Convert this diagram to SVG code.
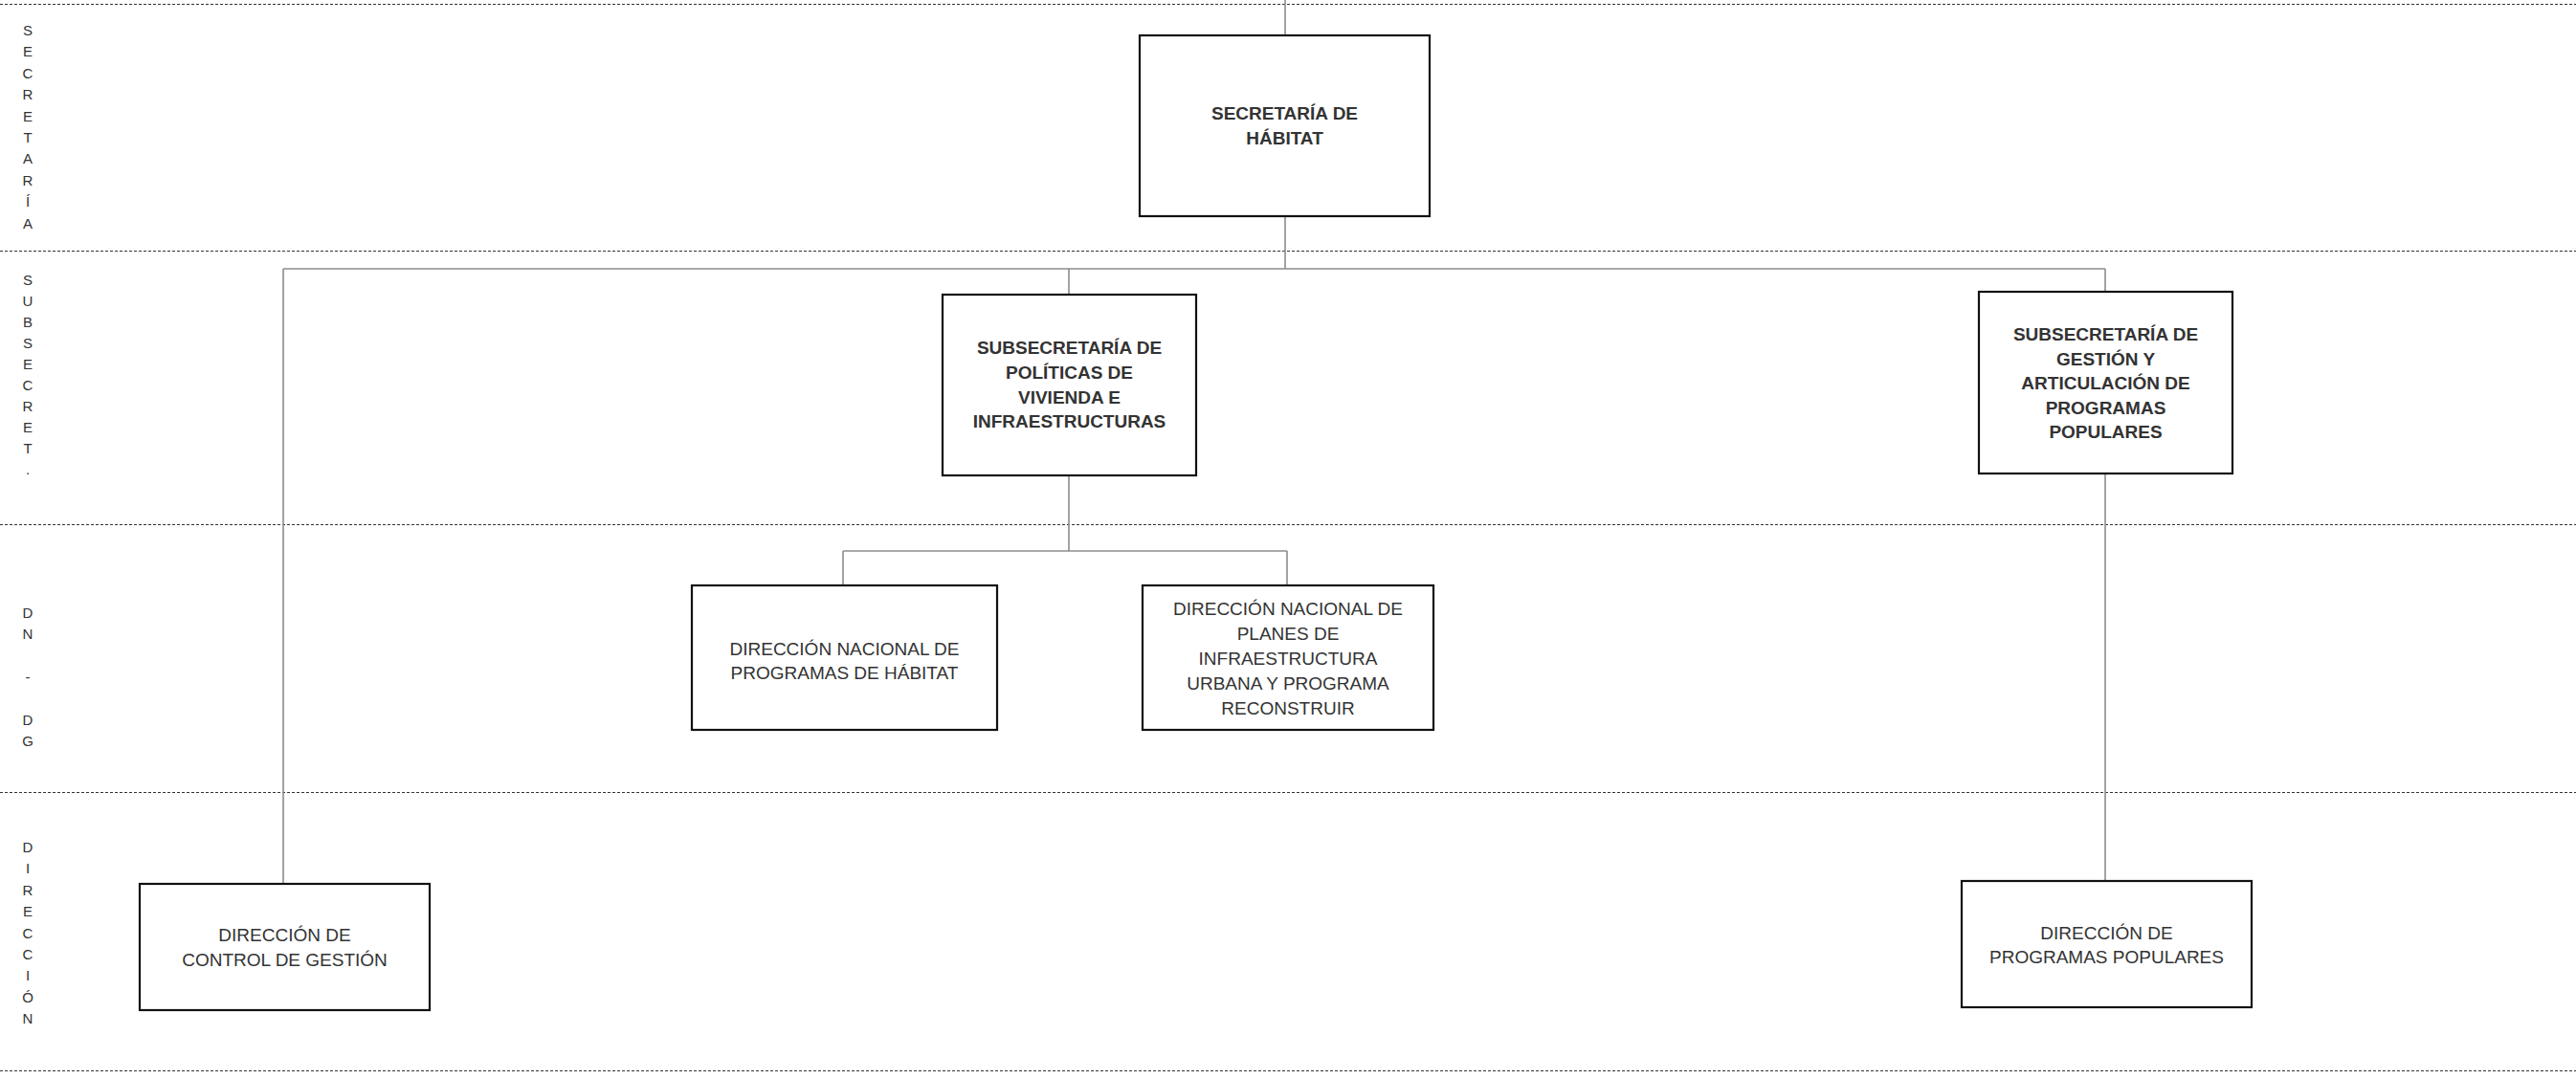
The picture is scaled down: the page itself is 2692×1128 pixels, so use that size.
<svg xmlns="http://www.w3.org/2000/svg" width="2692" height="1128" viewBox="0 0 2692 1128">
<style>
.bg{fill:#ffffff}
.lane{stroke:#333333;stroke-width:1.2;stroke-dasharray:3 2;fill:none}
.box{fill:#ffffff;stroke:#111111;stroke-width:2.2}
.conn{stroke:#8c8c8c;stroke-width:1.6;fill:none}
.lbl{font-family:"Liberation Sans",Arial,sans-serif;font-size:15px;fill:#333333;text-anchor:middle}
.tb{font-family:"Liberation Sans",Arial,sans-serif;font-size:19px;font-weight:bold;fill:#333333;text-anchor:middle}
.tr{font-family:"Liberation Sans",Arial,sans-serif;font-size:19px;fill:#333333;text-anchor:middle}
</style>
<rect class="bg" x="0" y="0" width="2692" height="1128"/>
<g id="lanes">
<line class="lane" x1="0" y1="4.5" x2="2692" y2="4.5"/>
<line class="lane" x1="0" y1="262.5" x2="2692" y2="262.5"/>
<line class="lane" x1="0" y1="548.5" x2="2692" y2="548.5"/>
<line class="lane" x1="0" y1="828.5" x2="2692" y2="828.5"/>
<line class="lane" x1="0" y1="1119.5" x2="2692" y2="1119.5"/>
</g>
<g id="lane-labels">
<text class="lbl" x="29"><tspan x="29" y="37">S</tspan><tspan x="29" y="59.4">E</tspan><tspan x="29" y="81.8">C</tspan><tspan x="29" y="104.2">R</tspan><tspan x="29" y="126.6">E</tspan><tspan x="29" y="149">T</tspan><tspan x="29" y="171.4">A</tspan><tspan x="29" y="193.8">R</tspan><tspan x="29" y="216.2">Í</tspan><tspan x="29" y="238.6">A</tspan></text>
<text class="lbl" x="29"><tspan x="29" y="298">S</tspan><tspan x="29" y="320">U</tspan><tspan x="29" y="342">B</tspan><tspan x="29" y="364">S</tspan><tspan x="29" y="386">E</tspan><tspan x="29" y="408">C</tspan><tspan x="29" y="430">R</tspan><tspan x="29" y="452">E</tspan><tspan x="29" y="474">T</tspan><tspan x="29" y="496">.</tspan></text>
<text class="lbl" x="29"><tspan x="29" y="646">D</tspan><tspan x="29" y="668.4">N</tspan><tspan x="29" y="713.2">-</tspan><tspan x="29" y="758">D</tspan><tspan x="29" y="780.4">G</tspan></text>
<text class="lbl" x="29"><tspan x="29" y="891">D</tspan><tspan x="29" y="913.4">I</tspan><tspan x="29" y="935.8">R</tspan><tspan x="29" y="958.2">E</tspan><tspan x="29" y="980.6">C</tspan><tspan x="29" y="1003">C</tspan><tspan x="29" y="1025.4">I</tspan><tspan x="29" y="1047.8">Ó</tspan><tspan x="29" y="1070.2">N</tspan></text>
</g>
<g id="connectors">
<line class="conn" x1="1343" y1="0" x2="1343" y2="37"/>
<line class="conn" x1="1343" y1="226" x2="1343" y2="281"/>
<line class="conn" x1="296" y1="281" x2="2200" y2="281"/>
<line class="conn" x1="296" y1="281" x2="296" y2="924"/>
<line class="conn" x1="1117" y1="281" x2="1117" y2="308"/>
<line class="conn" x1="2200" y1="281" x2="2200" y2="305"/>
<line class="conn" x1="1117" y1="497" x2="1117" y2="576"/>
<line class="conn" x1="881" y1="576" x2="1345" y2="576"/>
<line class="conn" x1="881" y1="576" x2="881" y2="612"/>
<line class="conn" x1="1345" y1="576" x2="1345" y2="612"/>
<line class="conn" x1="2200" y1="495" x2="2200" y2="921"/>
</g>
<g id="secretaria">
<rect class="box" x="1191" y="37" width="303" height="189"/>
<text class="tb"><tspan x="1342.5" y="125">SECRETARÍA DE</tspan><tspan x="1342.5" y="151">HÁBITAT</tspan></text>
</g>
<g id="subsecretaria-politicas">
<rect class="box" x="985" y="308" width="265" height="189"/>
<text class="tb"><tspan x="1117.5" y="370">SUBSECRETARÍA DE</tspan><tspan x="1117.5" y="396">POLÍTICAS DE</tspan><tspan x="1117.5" y="422">VIVIENDA E</tspan><tspan x="1117.5" y="447">INFRAESTRUCTURAS</tspan></text>
</g>
<g id="subsecretaria-gestion">
<rect class="box" x="2068" y="305" width="265" height="190"/>
<text class="tb"><tspan x="2200.5" y="356">SUBSECRETARÍA DE</tspan><tspan x="2200.5" y="382">GESTIÓN Y</tspan><tspan x="2200.5" y="407">ARTICULACIÓN DE</tspan><tspan x="2200.5" y="433">PROGRAMAS</tspan><tspan x="2200.5" y="458">POPULARES</tspan></text>
</g>
<g id="dn-programas-habitat">
<rect class="box" x="723" y="612" width="319" height="151"/>
<text class="tr"><tspan x="882.5" y="685">DIRECCIÓN NACIONAL DE</tspan><tspan x="882.5" y="710">PROGRAMAS DE HÁBITAT</tspan></text>
</g>
<g id="dn-planes-infraestructura">
<rect class="box" x="1194" y="612" width="304" height="151"/>
<text class="tr"><tspan x="1346" y="643">DIRECCIÓN NACIONAL DE</tspan><tspan x="1346" y="669">PLANES DE</tspan><tspan x="1346" y="695">INFRAESTRUCTURA</tspan><tspan x="1346" y="721">URBANA Y PROGRAMA</tspan><tspan x="1346" y="747">RECONSTRUIR</tspan></text>
</g>
<g id="dir-control-gestion">
<rect class="box" x="146" y="924" width="303" height="132"/>
<text class="tr"><tspan x="297.5" y="984">DIRECCIÓN DE</tspan><tspan x="297.5" y="1010">CONTROL DE GESTIÓN</tspan></text>
</g>
<g id="dir-programas-populares">
<rect class="box" x="2050" y="921" width="303" height="132"/>
<text class="tr"><tspan x="2201.5" y="982">DIRECCIÓN DE</tspan><tspan x="2201.5" y="1007">PROGRAMAS POPULARES</tspan></text>
</g>
</svg>
